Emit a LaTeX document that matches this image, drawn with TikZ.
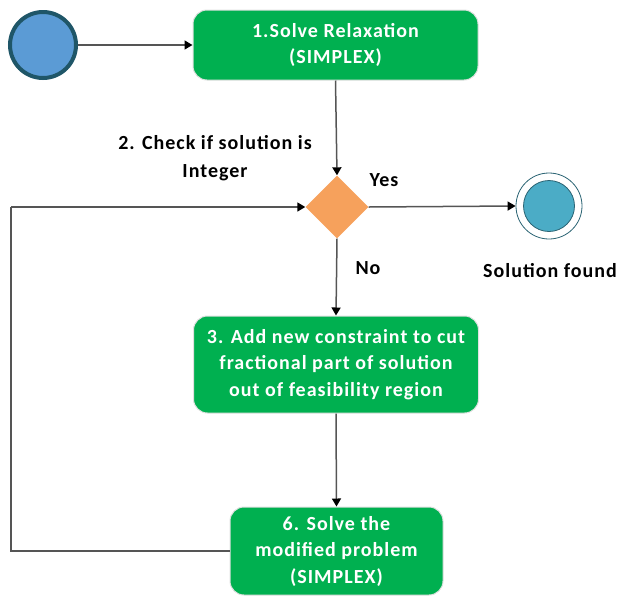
\documentclass[tikz,border=0pt]{standalone}
\usepackage{fontspec}
\setmainfont{Carlito}[LetterSpace=5]
\usetikzlibrary{shapes.geometric,arrows.meta}
\definecolor{boxgreen}{HTML}{00B050}
\definecolor{startblue}{HTML}{5B9BD5}
\definecolor{startedge}{HTML}{1F5668}
\definecolor{endblue}{HTML}{4BACC6}
\definecolor{endedge}{HTML}{2A6373}
\definecolor{decorange}{HTML}{F6A15C}
\definecolor{linegray}{HTML}{555555}
\tikzset{
  stepbox/.style={rectangle, rounded corners=14pt, fill=boxgreen, draw=black!12, line width=1pt,
    text=white, font=\fontsize{20}{26.5}\selectfont\bfseries, align=center, inner sep=0pt},
  lbl/.style={font=\fontsize{20}{28}\selectfont\bfseries, text=black, align=center, inner sep=0pt},
  arr/.style={draw=linegray, line width=1.5pt, -{Triangle[length=8pt,width=9pt,color=black]}},
  conn/.style={draw=linegray, line width=1.5pt}
}
\begin{document}
\begin{tikzpicture}[x=1pt,y=-1pt]
\useasboundingbox (0,0) rectangle (619,598);
\node[circle, fill=startblue, draw=startedge, line width=4pt, minimum size=66pt, inner sep=0pt] (start) at (43,45) {};
\node[stepbox, minimum width=285pt, minimum height=70pt] (s1) at (335.5,45) {1.Solve Relaxation\\(SIMPLEX)};
\node[diamond, fill=decorange, minimum width=63pt, minimum height=63pt, inner sep=0pt] (dec) at (337,207) {};
\node[circle, draw=endedge, line width=0.8pt, minimum size=66pt, inner sep=0pt] (endring) at (549,206) {};
\node[circle, fill=endblue, draw=endedge, line width=0.8pt, minimum size=51pt, inner sep=0pt] (endin) at (549,206) {};
\node[stepbox, minimum width=285pt, minimum height=97pt] (s3) at (336,364.5) {3. Add new constraint to cut\\fractional part of solution\\out of feasibility region};
\node[stepbox, minimum width=213pt, minimum height=88pt] (s6) at (336.5,551) {6. Solve the\\modified problem\\(SIMPLEX)};
\node[lbl] (chk) at (215,158) {2. Check if solution is\\Integer};
\node[lbl] (yes) at (384,180) {Yes};
\node[lbl] (no) at (368,268) {No};
\node[lbl] (found) at (550,271) {Solution found};
\coordinate (lc) at (11,207);
\draw[arr] (start.east) -- (s1.west);
\draw[arr] (s1.south) -- (dec.north);
\draw[arr] (dec.east) -- (endring.west);
\draw[arr] (dec.south) -- (s3.north);
\draw[arr] (s3.south) -- (s6.north);
\draw[conn] (s6.west) -| (lc);
\draw[arr] (lc) -- (dec.west);
\end{tikzpicture}
\end{document}
